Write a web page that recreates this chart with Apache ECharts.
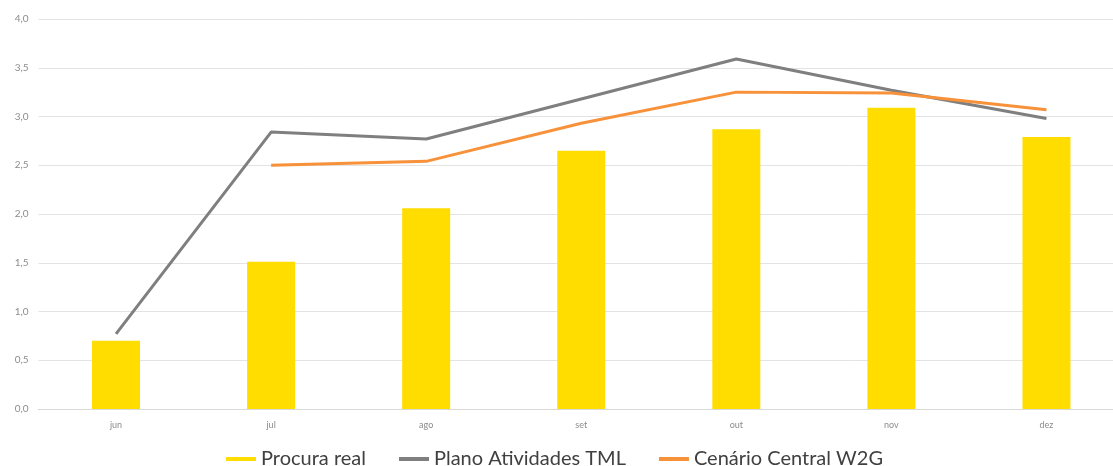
<!DOCTYPE html>
<html>
<head>
<meta charset="utf-8">
<script src="https://cdn.jsdelivr.net/npm/echarts@6/dist/echarts.min.js"></script>
<style>
  html, body { margin: 0; padding: 0; background: #fff; overflow: hidden; }
  /* the plot area runs a little past the right edge of the window */
  #chart { width: 1124px; height: 466px; }
</style>
</head>
<body>
<div id="chart"></div>
<script>
// Months shown on the category axis
const months = ['jun', 'jul', 'ago', 'set', 'out', 'nov', 'dez'];

// Actual demand (bars)
const procuraReal = [0.70, 1.51, 2.06, 2.65, 2.87, 3.09, 2.79];

// TML activity plan (grey line)
const planoAtividadesTML = [0.77, 2.84, 2.77, 3.18, 3.59, 3.27, 2.98];

// W2G central scenario (orange line), starts in July
const cenarioCentralW2G = [null, 2.50, 2.54, 2.93, 3.25, 3.24, 3.07];

// Value axis range
const yMin = 0, yMax = 4, yStep = 0.5;

const seriesNames = ['Procura real', 'Plano Atividades TML', 'Cenário Central W2G'];
const colors = ['#FFDD00', '#7F7F7F', '#F7913A'];
const fontFamily = 'Lato, "Open Sans", sans-serif';

const chart = echarts.init(document.getElementById('chart'), null, { renderer: 'canvas' });

chart.setOption({
  animation: false,
  backgroundColor: '#ffffff',
  color: colors,
  grid: { left: 38.5, right: 0, top: 19, height: 390 },
  legend: {
    top: 444,
    left: 221,
    itemWidth: 30,
    itemHeight: 4,
    itemGap: 33,
    icon: 'rect',
    textStyle: { fontFamily: fontFamily, fontSize: 20, color: '#404040' },
    data: seriesNames
  },
  xAxis: {
    type: 'category',
    data: months,
    axisLine: { show: true, lineStyle: { color: '#d9d9d9', width: 1 } },
    axisTick: { show: false },
    axisLabel: { color: '#8c8c8c', fontFamily: fontFamily, fontSize: 9, margin: 12 }
  },
  yAxis: {
    type: 'value',
    min: yMin,
    max: yMax,
    interval: yStep,
    axisLine: { show: false },
    axisTick: { show: false },
    splitLine: { lineStyle: { color: '#e3e3e3', width: 1 } },
    axisLabel: {
      color: '#8c8c8c',
      fontFamily: fontFamily,
      fontSize: 10,
      margin: 10,
      formatter: v => v.toFixed(1).replace('.', ',')
    }
  },
  series: [
    {
      name: seriesNames[0],
      type: 'bar',
      data: procuraReal,
      barWidth: 48,
      itemStyle: { color: colors[0] }
    },
    {
      name: seriesNames[1],
      type: 'line',
      data: planoAtividadesTML,
      symbol: 'none',
      lineStyle: { color: colors[1], width: 3 },
      itemStyle: { color: colors[1] }
    },
    {
      name: seriesNames[2],
      type: 'line',
      data: cenarioCentralW2G,
      symbol: 'none',
      connectNulls: false,
      lineStyle: { color: colors[2], width: 3 },
      itemStyle: { color: colors[2] }
    }
  ]
});
</script>
</body>
</html>
